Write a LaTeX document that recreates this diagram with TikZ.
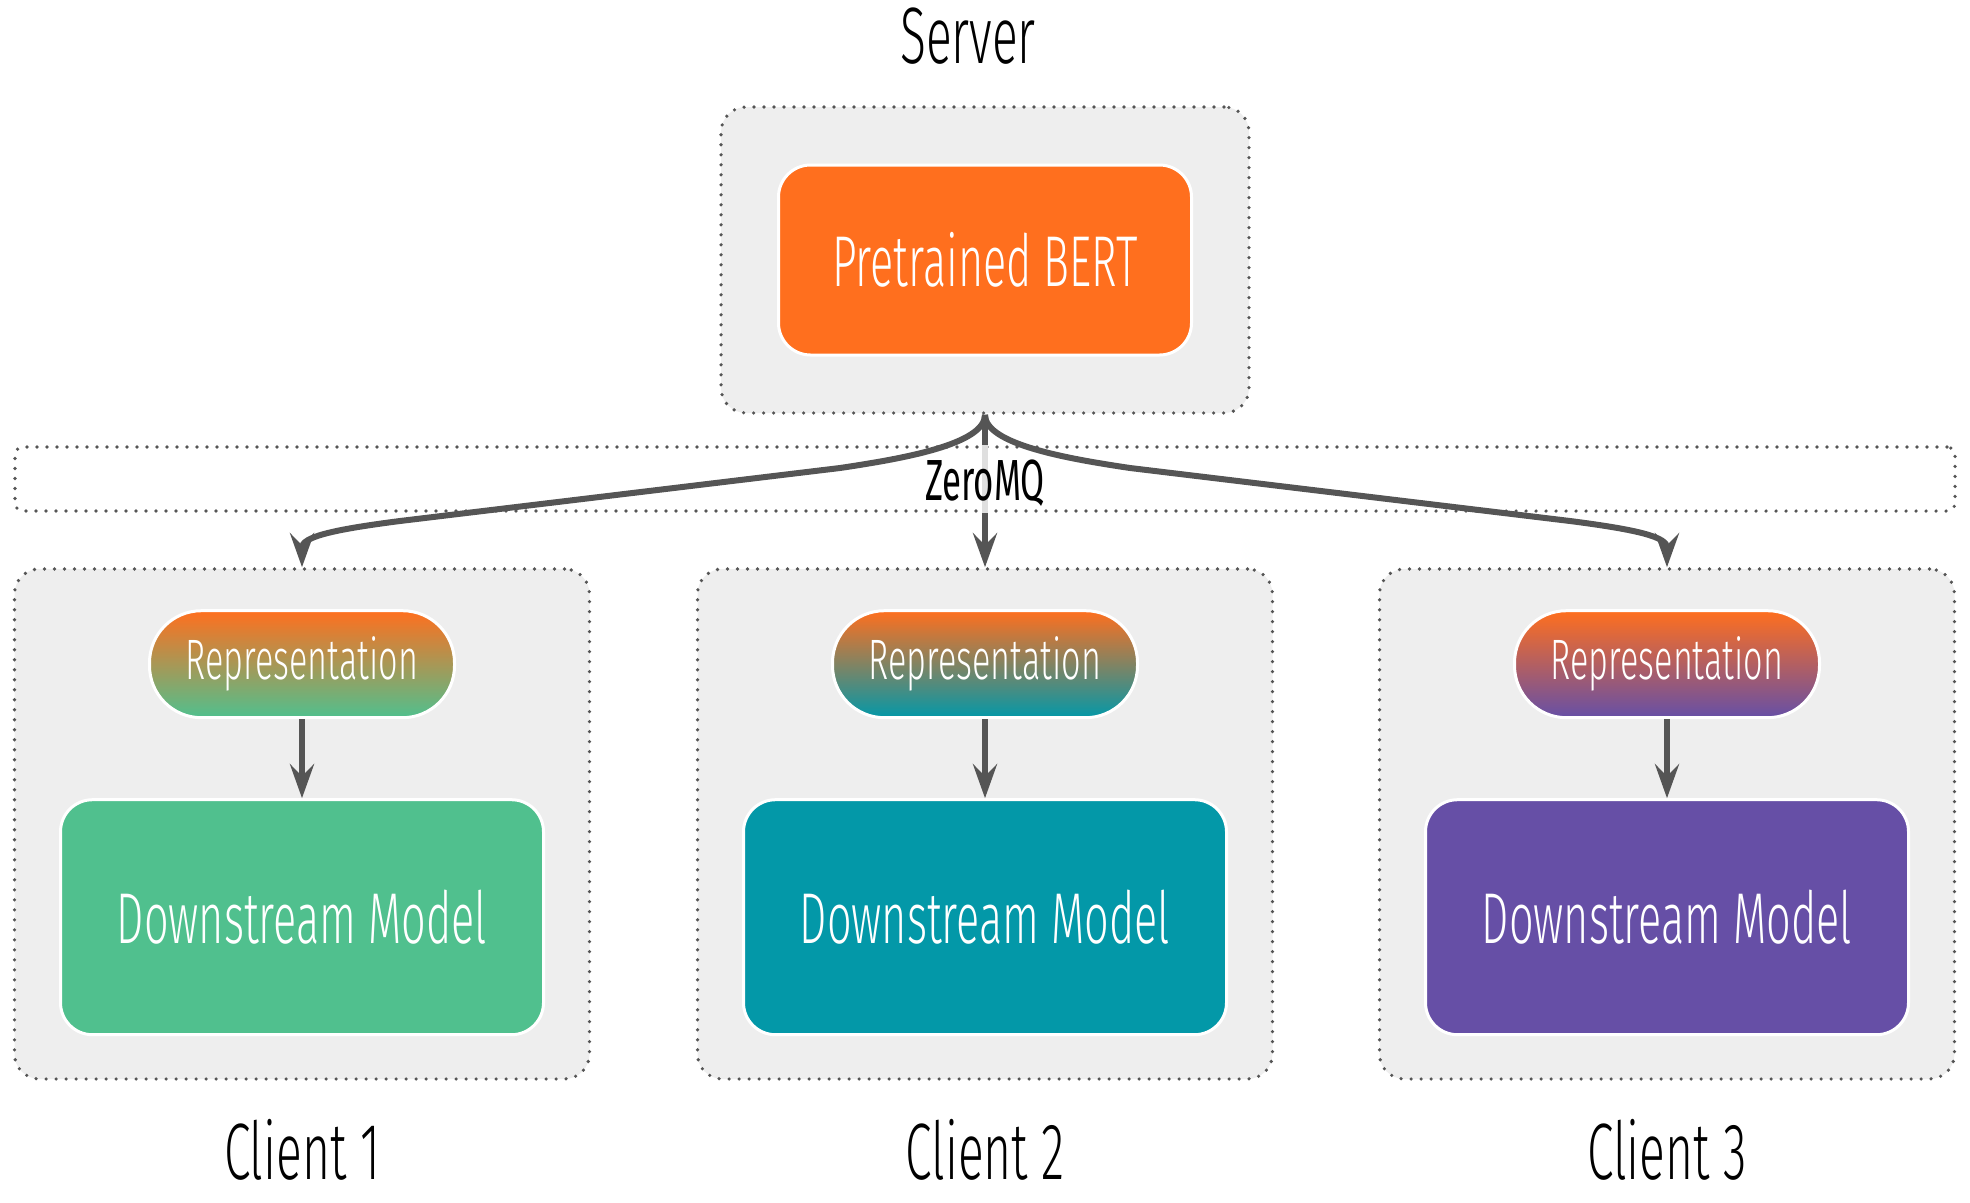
\documentclass[tikz,border=0pt]{standalone}
\usepackage{fontspec}
\setmainfont{Fira Sans Light}[FakeStretch=0.6]
\newfontfamily\mqfont{Fira Sans}[FakeStretch=0.6]
\usepackage{tikz}
\usetikzlibrary{arrows.meta,positioning,calc}
\definecolor{bertorange}{HTML}{FF6F1E}
\definecolor{cgreen}{HTML}{50C08E}
\definecolor{cteal}{HTML}{0398A8}
\definecolor{cpurple}{HTML}{664FA6}
\definecolor{boxgray}{HTML}{EEEEEE}
\definecolor{dotgray}{HTML}{555555}
\definecolor{arrowgray}{HTML}{555555}
\tikzset{grp/.style={draw=dotgray,fill=boxgray,line width=3.6pt,line cap=round,dash pattern=on 0pt off 10pt,rounded corners=25pt,inner sep=0pt}}
\tikzset{blk/.style={draw=white,line width=3pt,rounded corners=32pt,text=white,inner sep=0pt,font=\fontsize{72}{80}\selectfont}}
\tikzstyle{pill}=[draw=white,line width=3pt,rounded corners=52pt,text=white,inner sep=0pt,minimum width=305pt,minimum height=107pt,top color=bertorange,font=\fontsize{57}{64}\selectfont]
\tikzstyle{lbl}=[text=black,inner sep=0pt,font=\fontsize{80}{88}\selectfont]

\begin{document}
\begin{tikzpicture}[x=1pt,y=-1pt,line width=6pt,>={Stealth[length=34pt,width=24pt,inset=12pt]}]
    \useasboundingbox (0,0) rectangle (1970,1202);
    % server
    \node [lbl] (srvlbl) at (968,36) {Server};
    \node [grp,minimum width=528pt,minimum height=306pt] (srv) at (985,260) {};
    \node [blk,fill=bertorange,minimum width=413pt,minimum height=190pt] (bert) at (985,260) {Pretrained BERT};
    % transport
    \node [grp,fill=none,rounded corners=8pt,minimum width=1940pt,minimum height=64pt] (mq) at (985,479) {};
    % clients
    \node [grp,minimum width=575pt,minimum height=510pt] (c1) at (302,824) {};
    \node [grp,minimum width=575pt,minimum height=510pt] (c2) at (985,824) {};
    \node [grp,minimum width=575pt,minimum height=510pt] (c3) at (1667,824) {};
    \node [pill,bottom color=cgreen,below=42pt of c1.north] (r1) {Representation};
    \node [pill,bottom color=cteal,below=42pt of c2.north] (r2) {Representation};
    \node [pill,bottom color=cpurple,below=42pt of c3.north] (r3) {Representation};
    \node [blk,fill=cgreen,minimum width=483pt,minimum height=235pt,below=79pt of r1] (d1) {Downstream Model};
    \node [blk,fill=cteal,minimum width=483pt,minimum height=235pt,below=79pt of r2] (d2) {Downstream Model};
    \node [blk,fill=cpurple,minimum width=483pt,minimum height=235pt,below=79pt of r3] (d3) {Downstream Model};
    \node [lbl] (l1) at (302,1150) {Client 1};
    \node [lbl] (l2) at (985,1150) {Client 2};
    \node [lbl] (l3) at (1667,1150) {Client 3};
    % connectors
    \draw [->,arrowgray] (srv.south) .. controls +(0,30) and +(60,-9) .. (840,468) -- (400,521) .. controls +(-70,9) and +(0,-30) .. (c1.north);
    \draw [->,arrowgray] (srv.south) .. controls +(0,30) and +(-60,-9) .. (1130,468) -- (1570,521) .. controls +(70,9) and +(0,-30) .. (c3.north);
    \draw [->,arrowgray] (srv.south) -- (c2.north);
    \draw [boxgray,opacity=0.9] (mq.north -| srv.south) -- (mq.south -| srv.south);
    \node [text=black,inner sep=0pt,font=\mqfont\fontsize{58}{64}\selectfont] (mqlbl) at (985,483) {ZeroMQ};
    \path[->,arrowgray] (r1) edge (d1);
    \path[->,arrowgray] (r2) edge (d2);
    \path[->,arrowgray] (r3) edge (d3);
\end{tikzpicture}
\end{document}
